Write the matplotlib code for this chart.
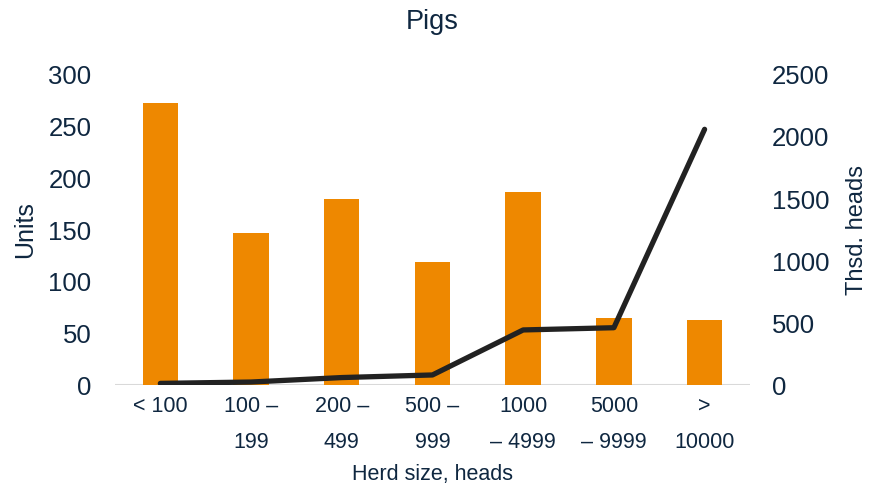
import numpy as np
import matplotlib.pyplot as plt

plt.rcParams['font.family'] = ['Liberation Sans', 'DejaVu Sans']

# Herd size classes
herd_sizes = ['< 100', '100 –\n199', '200 –\n499', '500 –\n999',
              '1000\n– 4999', '5000\n– 9999', '>\n10000']
# Number of holdings (left axis)
units = [273, 147, 180, 119, 187, 65, 63]
# Pigs kept, thousand heads (right axis)
thsd_heads = [13, 24, 60, 81, 444, 462, 2062]

text_color = '#0f2740'
bar_color = '#ee8800'
line_color = '#222222'

fig = plt.figure(figsize=(8.69, 4.98), dpi=100)
ax = fig.add_axes([0.1323, 0.2269, 0.7307, 0.6225])
ax2 = ax.twinx()

x = np.arange(len(herd_sizes))
ax.bar(x, units, width=0.39, color=bar_color, zorder=2)
ax2.plot(x, thsd_heads, color=line_color, lw=3.8, solid_capstyle='round',
         solid_joinstyle='round', zorder=3)

ax.set_xlim(-0.5, len(herd_sizes) - 0.5)
ax.set_ylim(0, 300)
ax.set_yticks(range(0, 301, 50))
ax2.set_ylim(0, 2500)
ax2.set_yticks(range(0, 2501, 500))

ax.set_xticks(x)
ax.set_xticklabels(herd_sizes, linespacing=1.95)

for a in (ax, ax2):
    for side in ('top', 'right', 'left', 'bottom'):
        a.spines[side].set_visible(False)
    a.tick_params(length=0, labelsize=18.5, colors=text_color)
ax.tick_params(axis='x', labelsize=15.5, pad=8)
ax.tick_params(axis='y', pad=17)
ax2.tick_params(axis='y', pad=16)

ax.axhline(0, color='#d9d9d9', lw=1.5, zorder=1)

ax.set_xlabel('Herd size, heads', fontsize=15.5, color=text_color, labelpad=8)
ax.set_ylabel('Units', fontsize=18, color=text_color, labelpad=8)
ax2.set_ylabel('Thsd. heads', fontsize=17, color=text_color, labelpad=12)
ax.set_title('Pigs', fontsize=19.5, color=text_color, pad=33)

ax.set_zorder(ax2.get_zorder() - 1)
ax2.patch.set_visible(False)

fig.savefig('out.png', dpi=100)
